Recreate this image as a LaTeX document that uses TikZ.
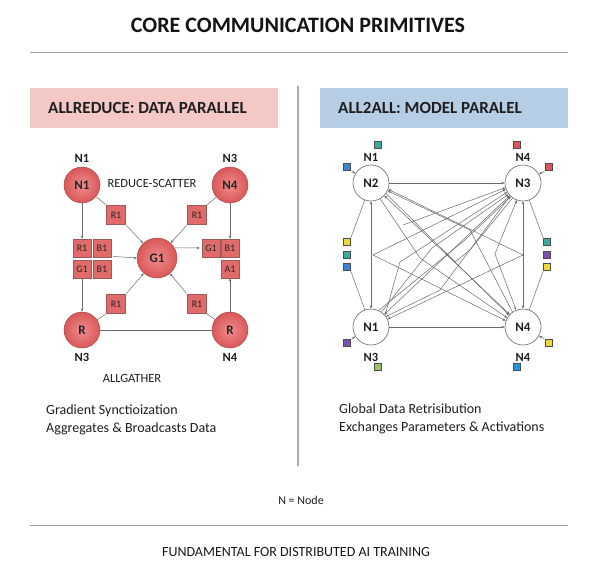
\documentclass[tikz,border=0pt]{standalone}
\usepackage{fontspec}
\setmainfont{Carlito}
\usetikzlibrary{arrows.meta}
\definecolor{pinkbox}{HTML}{F4C8C5}
\definecolor{bluebox}{HTML}{B5CEE5}
\definecolor{circin}{HTML}{F08C8C}
\definecolor{circout}{HTML}{D95858}
\definecolor{circedge}{HTML}{A84A4A}
\definecolor{boxred}{HTML}{E16A6A}
\definecolor{boxedge}{HTML}{9A5A5A}
\definecolor{linegray}{HTML}{6A6A6A}
\definecolor{sqteal}{HTML}{3BA89B}
\definecolor{sqblue}{HTML}{3B84CF}
\definecolor{sqred}{HTML}{E0565F}
\definecolor{sqyellow}{HTML}{EDD83C}
\definecolor{sqpurple}{HTML}{7A50B0}
\definecolor{sqgreen}{HTML}{9CBF6C}
\definecolor{sqlblue}{HTML}{2298D8}
\begin{document}
\begin{tikzpicture}[x=1pt,y=-1pt,
  rulestyle/.style={draw=gray!75, line width=0.9pt},
  heading/.style={anchor=west, inner sep=0pt, font=\fontsize{17}{20}\selectfont\bfseries, text=black!88},
  redc/.style={circle, draw=circedge, line width=0.5pt, inner color=circin, outer color=circout, minimum size=36pt, inner sep=0pt, font=\fontsize{13}{15}\selectfont\bfseries, text=black!85},
  rbox/.style={draw=boxedge, line width=0.5pt, fill=boxred, minimum size=18pt, inner sep=0pt, font=\fontsize{10}{12}\selectfont, text=black!85},
  lbl/.style={font=\fontsize{12.5}{14}\selectfont\bfseries, text=black!88},
  wc/.style={circle, draw=gray!80!black, line width=0.6pt, fill=white, minimum size=36pt, inner sep=0pt, font=\fontsize{13}{15}\selectfont\bfseries, text=black!88},
  sq/.style={draw=gray!60!black, line width=0.4pt, minimum size=7pt, inner sep=0pt},
  ln/.style={draw=linegray, line width=0.5pt},
  arr/.style={ln, -{Stealth[length=3.2pt,width=2.6pt]}},
  arrb/.style={ln, {Stealth[length=3.2pt,width=2.6pt]}-{Stealth[length=3.2pt,width=2.6pt]}},
  body/.style={anchor=west, inner sep=0pt, font=\fontsize{14}{16}\selectfont, text=black!88}
]
\useasboundingbox (0,0) rectangle (605,570);
\fill[white] (0,0) rectangle (605,570);

% title and rules
\node[font=\fontsize{22}{26}\selectfont\bfseries, text=black!92] (title) at (298,25) {CORE COMMUNICATION PRIMITIVES};
\coordinate (r1a) at (30,52); \coordinate (r1b) at (568,52);
\draw[rulestyle] (r1a) -- (r1b);
\coordinate (dva) at (298,86); \coordinate (dvb) at (298,466);
\draw[draw=gray!65, line width=1.2pt] (dva) -- (dvb);

% headings
\node[fill=pinkbox, minimum width=248pt, minimum height=40pt, anchor=north west, inner sep=0pt] (hl) at (30,88) {};
\node[heading] (hlt) at (48,108) {ALLREDUCE: DATA PARALLEL};
\node[fill=bluebox, minimum width=248pt, minimum height=40pt, anchor=north west, inner sep=0pt] (hr) at (320,88) {};
\node[heading] (hrt) at (338,108) {ALL2ALL: MODEL PARALEL};

% ---------- left diagram ----------
\node[redc] (N1c) at (82,185) {N1};
\node[redc] (N4c) at (230,185) {N4};
\node[redc] (Rl) at (82,330) {R};
\node[redc] (Rr) at (230,330) {R};
\node[redc, minimum size=40pt] (G1) at (157,258) {G1};
\node[lbl] (lN1) at (82,158) {N1};
\node[lbl] (lN3a) at (230,158) {N3};
\node[lbl] (lN3b) at (82,357) {N3};
\node[lbl] (lN4) at (230,357) {N4};
\node[font=\fontsize{12.5}{14}\selectfont, text=black!88] (rs) at (152,183) {REDUCE-SCATTER};
\node[font=\fontsize{12.5}{14}\selectfont, text=black!88] (ag) at (132,378) {ALLGATHER};

\node[rbox, minimum size=19pt] (bUL) at (116,215) {R1};
\node[rbox, minimum size=19pt] (bUR) at (197,215) {R1};
\node[rbox, minimum size=19pt] (bLL) at (116,304) {R1};
\node[rbox, minimum size=19pt] (bLR) at (197,304) {R1};
\node[rbox] (gR1) at (82,248) {R1};
\node[rbox] (gB1) at (102,248) {B1};
\node[rbox] (gG1) at (82,269) {G1};
\node[rbox] (gB2) at (102,269) {B1};
\node[rbox] (hG1) at (211,248) {G1};
\node[rbox] (hB1) at (230,248) {B1};
\node[rbox] (hA1) at (230,269) {A1};

\draw[arr] (N1c) -- (gR1);
\draw[ln] (N1c) -- (bUL.north west);
\draw[arr, shorten <=1pt] (bUL.south east) -- (G1);
\draw[ln] (N4c) -- (bUR.north east);
\draw[arr, shorten <=1pt] (bUR.south west) -- (G1);
\draw[arr] (N4c) -- (hB1);
\draw[arr, shorten <=2pt] ([yshift=1pt]gB1.south east) -- (G1.west);
\draw[arr, shorten >=2pt] (G1.30) -- (hG1.west);
\draw[arr] (gG1) -- (Rl);
\draw[ln] (Rl) -- (bLL.south west);
\draw[arr, shorten <=1pt] (bLL.north east) -- (G1);
\draw[ln] (Rr) -- (bLR.south east);
\draw[arr, shorten <=1pt] (bLR.north west) -- (G1);
\draw[arr] (Rr) -- (hA1);
\draw[ln] (Rl) -- (Rr);

% ---------- right diagram ----------
\node[wc] (B2) at (371,183) {N2};
\node[wc] (B3) at (523,183) {N3};
\node[wc] (B1) at (371,327) {N1};
\node[wc] (B4) at (523,327) {N4};
\node[lbl] (mN1) at (371,157) {N1};
\node[lbl] (mN4a) at (523,157) {N4};
\node[lbl] (mN3) at (371,357) {N3};
\node[lbl] (mN4b) at (523,357) {N4};

\node[sq, fill=sqteal] (s1) at (378,145) {};
\node[sq, fill=sqblue] (s2) at (347,167) {};
\node[sq, fill=sqred] (s3) at (517,145) {};
\node[sq, fill=sqred] (s4) at (549,167) {};
\node[sq, fill=sqyellow] (s5) at (347,242) {};
\node[sq, fill=sqteal] (s6) at (347,255) {};
\node[sq, fill=sqblue] (s7) at (347,267) {};
\node[sq, fill=sqteal] (s8) at (547,242) {};
\node[sq, fill=sqpurple] (s9) at (547,255) {};
\node[sq, fill=sqyellow] (s10) at (547,267) {};
\node[sq, fill=sqpurple] (s11) at (347,343) {};
\node[sq, fill=sqgreen] (s12) at (378,367) {};
\node[sq, fill=sqyellow] (s13) at (549,343) {};
\node[sq, fill=sqlblue] (s14) at (517,367) {};

% small arrows from squares
\draw[arr, shorten <=1pt] (s2.south east) -- (B2);
\draw[arr, shorten <=1pt] (s4.south west) -- (B3);
\draw[arr, shorten <=1pt] (s11.north east) -- (B1);
\draw[arr, shorten <=1pt] (s13.north west) -- (B4);
\draw[ln] (s5.north east) -- (B2);
\draw[ln] (s7.south east) -- (B1);
\draw[ln] (s8.north west) -- (B3);
\draw[ln] (s10.south west) -- (B4);

% main links
\draw[arr] (B2) -- (B3);
\draw[arr] (B1) -- (B4);
\draw[arrb] (B2) -- (B1);
\draw[arrb] (B3) -- (B4);
\draw[arrb] (B2) -- (B4);
\draw[arrb] (B1) -- (B3);

\coordinate (Lm) at (373,255);
\coordinate (Rm) at (523,255);
\coordinate (c1) at (403,225);
\draw[arr] (Lm) -- (B3.200);
\draw[arr] (Lm) -- (B4.160);
\draw[arr] (Rm) -- (B2.-20);
\draw[arr] (Rm) -- (B1.25);
\draw[arr] (c1) -- (B3.195);

\draw[arr] (B1.40) -- (400,262) -- (B3.210);
\draw[arr] (B1.55) -- (432,248) -- (B3.218);
\draw[arr] (B2.-60) -- (420,258) -- (B4.150);
\draw[arr] (B2.-35) -- (455,262) -- (B4.140);
\draw[arr] (B4.125) -- (470,230) -- (B2.-25);
\draw[arr] (B3.235) -- (470,250) -- (455,262) -- (446,253);
\draw[arr] (B1.65) -- (465,240) -- (B3.228);
\draw[arrb] (B3.250) -- (495,254) -- (B4.112);
\draw[arr] (B3.225) -- (440,290) -- (B1.35);

% bottom texts
\node[body] (t1) at (46,411) {Gradient Synctioization};
\node[body] (t2) at (46,429) {Aggregates \& Broadcasts Data};
\node[body] (t3) at (339,409) {Global Data Retrisibution};
\node[body] (t4) at (339,428) {Exchanges Parameters \& Activations};
\node[font=\fontsize{12}{14}\selectfont, text=black!88] (leg) at (301,500) {N = Node};
\coordinate (r2a) at (30,525); \coordinate (r2b) at (568,525);
\draw[rulestyle] (r2a) -- (r2b);
\node[font=\fontsize{14}{16}\selectfont, text=black!90] (foot) at (296,552) {FUNDAMENTAL FOR DISTRIBUTED AI TRAINING};
\end{tikzpicture}
\end{document}
